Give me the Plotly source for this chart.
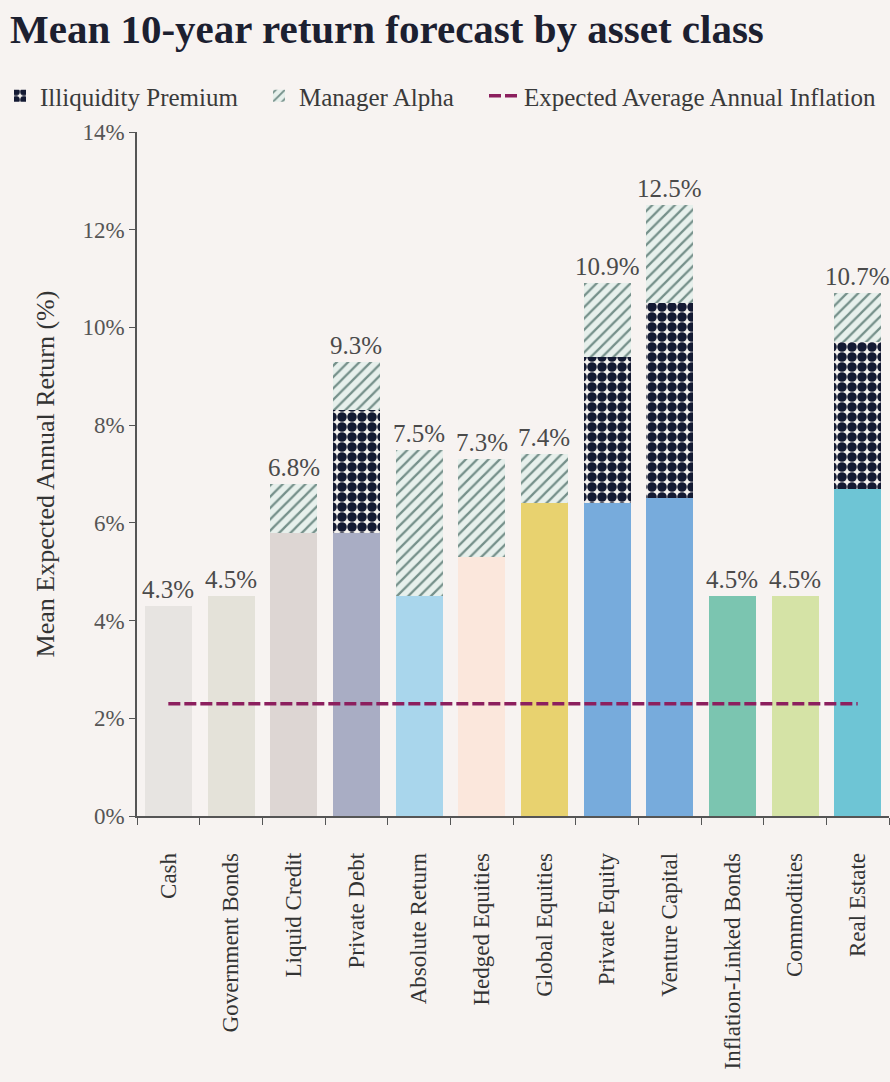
import plotly.graph_objects as go

# Asset classes and forecast components (% per year)
categories = [
    "Cash", "Government Bonds", "Liquid Credit", "Private Debt",
    "Absolute Return", "Hedged Equities", "Global Equities", "Private Equity",
    "Venture Capital", "Inflation-Linked Bonds", "Commodities", "Real Estate",
]
base_return = [4.3, 4.5, 5.8, 5.8, 4.5, 5.3, 6.4, 6.4, 6.5, 4.5, 4.5, 6.7]
illiquidity_premium = [0, 0, 0, 2.5, 0, 0, 0, 3.0, 4.0, 0, 0, 3.0]
manager_alpha = [0, 0, 1.0, 1.0, 3.0, 2.0, 1.0, 1.5, 2.0, 0, 0, 1.0]
inflation = 2.3

bar_colors = [
    "#e7e4e1", "#e4e2d9", "#ddd6d3", "#a9adc4", "#a9d6ec", "#fbe7dc",
    "#e8d26f", "#77abdc", "#77abdc", "#7bc5b0", "#d5e3a6", "#6ec5d5",
]

totals = [round(b + i + a, 1) for b, i, a in zip(base_return, illiquidity_premium, manager_alpha)]

BG = "#f7f3f1"
SERIF = "Liberation Serif, serif"
TEXT = "#3a3a3a"
W, H = 890, 1082

fig = go.Figure()

fig.add_bar(
    x=categories, y=base_return, marker=dict(color=bar_colors, line=dict(width=0)),
    showlegend=False, hoverinfo="skip",
)
fig.add_bar(
    x=categories, y=illiquidity_premium, name="Illiquidity Premium", legend="legend",
    marker=dict(
        color="#f4f1ee",
        line=dict(width=0),
        pattern=dict(shape=".", fgcolor="#141a33", bgcolor="#f4f1ee",
                     size=10, solidity=0.72, fillmode="replace"),
    ),
)
fig.add_bar(
    x=categories, y=manager_alpha, name="Manager Alpha", legend="legend2",
    marker=dict(
        color="#e7f0ec",
        line=dict(width=0),
        pattern=dict(shape="/", fgcolor="#75908a", bgcolor="#e7f0ec",
                     size=8, solidity=0.28, fillmode="replace"),
    ),
)
fig.add_scatter(
    x=categories, y=[inflation] * len(categories), mode="lines",
    name="Expected Average Annual Inflation", legend="legend3",
    line=dict(color="#8c1f5e", width=3.5, dash="12px,4px"),
)

for cat, tot in zip(categories, totals):
    fig.add_annotation(
        x=cat, y=tot, text=f"{tot:.1f}%", showarrow=False,
        yanchor="bottom", yshift=1,
        font=dict(family=SERIF, size=25, color="#4a4a4a"),
    )


def legend_box(left_px):
    return dict(
        orientation="h", xref="container", yref="container",
        x=left_px / W, xanchor="left", y=1 - 96 / H, yanchor="middle",
        font=dict(family=SERIF, size=25, color=TEXT),
        bgcolor="rgba(0,0,0,0)", itemwidth=30,
    )


fig.update_layout(
    width=W, height=H,
    paper_bgcolor=BG, plot_bgcolor=BG,
    barmode="stack", bargap=0.25,
    margin=dict(l=137, r=1, t=132, b=266, autoexpand=False),
    font=dict(family=SERIF, color=TEXT),
    title=dict(
        text="<b>Mean 10-year return forecast by asset class</b>",
        x=10 / W, xanchor="left", xref="container",
        y=1 - 29 / H, yanchor="middle", yref="container",
        font=dict(family=SERIF, size=41, color="#1c2030"),
    ),
    legend=legend_box(-2),
    legend2=legend_box(259),
    legend3=legend_box(484),
    xaxis=dict(
        range=[-0.5, 11.5], showline=True, linecolor="#555555", linewidth=1.5,
        ticks="outside", tickson="boundaries", ticklen=7, tickcolor="#555555",
        tickangle=-90, tickfont=dict(family=SERIF, size=23, color="#333333"),
        showgrid=False, zeroline=False, ticklabelstandoff=26,
    ),
    yaxis=dict(
        range=[0, 14], tickvals=[0, 2, 4, 6, 8, 10, 12, 14],
        ticktext=["0%", "2%", "4%", "6%", "8%", "10%", "12%", "14%"],
        showline=True, linecolor="#555555", linewidth=1.5,
        ticks="outside", ticklen=6, tickcolor="#555555",
        tickfont=dict(family=SERIF, size=23, color="#555555"),
        showgrid=False, zeroline=False,
        title=dict(text="Mean Expected Annual Return (%)", standoff=20,
                   font=dict(family=SERIF, size=26, color="#333333")),
    ),
)

fig.write_html("out.html")
